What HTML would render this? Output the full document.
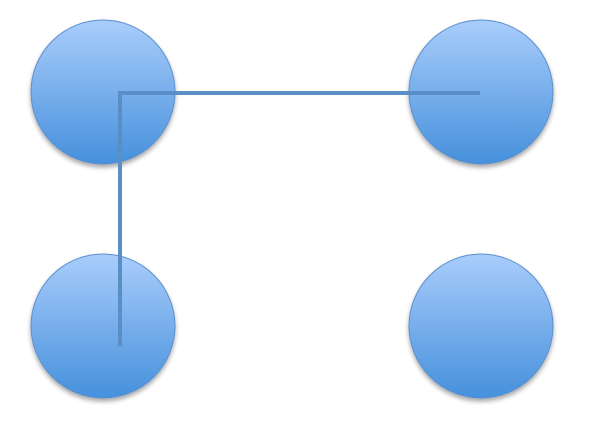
<!DOCTYPE html>
<html><head><style>html,body{margin:0;padding:0;background:#fff;}</style></head>
<body>
<svg width="599" height="422" viewBox="0 0 599 422" xmlns="http://www.w3.org/2000/svg">
<defs>
<linearGradient id="g" x1="0" y1="0" x2="0" y2="1">
<stop offset="0" stop-color="#a9cdfb"/>
<stop offset="1" stop-color="#4690dc"/>
</linearGradient>
<filter id="s" x="-20%" y="-20%" width="140%" height="150%">
<feGaussianBlur in="SourceAlpha" stdDeviation="2.5"/>
<feOffset dy="3"/>
<feComponentTransfer><feFuncA type="linear" slope="0.35"/></feComponentTransfer>
<feMerge><feMergeNode/><feMergeNode in="SourceGraphic"/></feMerge>
</filter>
</defs>
<g fill="url(#g)" stroke="#5b8fcc" stroke-width="1" filter="url(#s)">
<circle cx="103" cy="92" r="72"/>
<circle cx="481" cy="92" r="72"/>
<circle cx="103" cy="326" r="72"/>
<circle cx="481" cy="326" r="72"/>
</g>
<path d="M480 93 H120 V346" fill="none" stroke="#5a8fc6" stroke-width="4"/>
</svg>
</body></html>
